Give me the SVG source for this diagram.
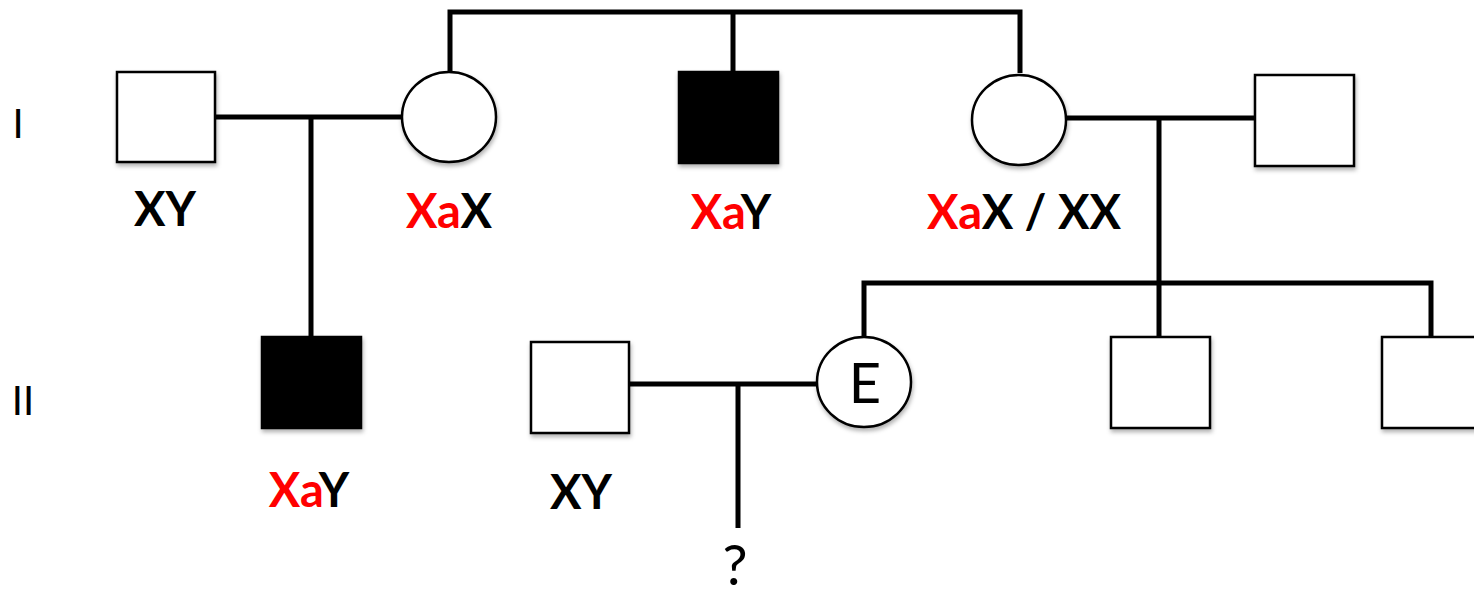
<svg xmlns="http://www.w3.org/2000/svg" width="1474" height="597" viewBox="0 0 1474 597">
<defs>
<filter id="sh" x="-10%" y="-10%" width="130%" height="130%">
<feDropShadow dx="1" dy="3" stdDeviation="2" flood-color="#000" flood-opacity="0.3"/>
</filter>
</defs>
<style>
.sq{fill:#fff;stroke:#000;stroke-width:2.5;filter:url(#sh)}
.aff{fill:#000;stroke:#000;stroke-width:2.5;filter:url(#sh)}
.ci{fill:#fff;stroke:#000;stroke-width:2.5;filter:url(#sh)}
.ln{stroke:#000;stroke-width:5;fill:none}
.lb{font-family:Lato,"Open Sans",sans-serif;font-weight:bold;font-size:47px;fill:#000}
.r{fill:#ff0000}
.gen{font-family:Lato,"Open Sans",sans-serif;font-size:40px;fill:#000}
.t{font-family:Lato,"Open Sans",sans-serif;font-size:56px;fill:#000}
</style>
<g id="connectors">
<polyline class="ln" points="450,72 450,12 1020,12 1020,73"/>
<line class="ln" x1="733" y1="12" x2="733" y2="72"/>
<line class="ln" x1="215" y1="117" x2="402" y2="117"/>
<line class="ln" x1="311" y1="117" x2="311" y2="337"/>
<line class="ln" x1="1066" y1="118" x2="1255" y2="118"/>
<line class="ln" x1="1159" y1="118" x2="1159" y2="337"/>
<polyline class="ln" points="864,337 864,283 1431,283 1431,337"/>
<line class="ln" x1="630" y1="384" x2="817" y2="384"/>
<line class="ln" x1="738" y1="384" x2="738" y2="528"/>
</g>
<g id="gen-I"><text class="gen" x="18" y="138" text-anchor="middle">I</text></g>
<g id="gen-II"><text class="gen" x="23" y="415" text-anchor="middle">II</text></g>
<g id="I-1">
<rect class="sq" x="117" y="72" width="98" height="90"/>
<text class="lb" x="165" y="226" text-anchor="middle">XY</text>
</g>
<g id="I-2">
<ellipse class="ci" cx="449" cy="117" rx="47" ry="45"/>
<text class="lb" x="449" y="228" text-anchor="middle"><tspan class="r">Xa</tspan>X</text>
</g>
<g id="I-3">
<rect class="aff" x="679" y="72" width="99" height="91"/>
<text class="lb" x="731" y="229" text-anchor="middle"><tspan class="r">Xa</tspan>Y</text>
</g>
<g id="I-4">
<ellipse class="ci" cx="1019" cy="120" rx="47" ry="45"/>
<text class="lb" x="1024" y="229" text-anchor="middle"><tspan class="r">Xa</tspan>X / XX</text>
</g>
<g id="I-5">
<rect class="sq" x="1255" y="75" width="99" height="91"/>
</g>
<g id="II-1">
<rect class="aff" x="262" y="337" width="99" height="91"/>
<text class="lb" x="309" y="507" text-anchor="middle"><tspan class="r">Xa</tspan>Y</text>
</g>
<g id="II-2">
<rect class="sq" x="531" y="342" width="98" height="91"/>
<text class="lb" x="581" y="509" text-anchor="middle">XY</text>
</g>
<g id="II-3">
<ellipse class="ci" cx="864" cy="382" rx="47" ry="45"/>
<text class="t" x="865" y="403" text-anchor="middle">E</text>
</g>
<g id="II-4">
<rect class="sq" x="1111" y="337" width="99" height="91"/>
</g>
<g id="II-5">
<rect class="sq" x="1382" y="337" width="99" height="91"/>
</g>
<g id="III-1">
<text class="t" x="735" y="585" text-anchor="middle" font-size="54">?</text>
</g>
</svg>
